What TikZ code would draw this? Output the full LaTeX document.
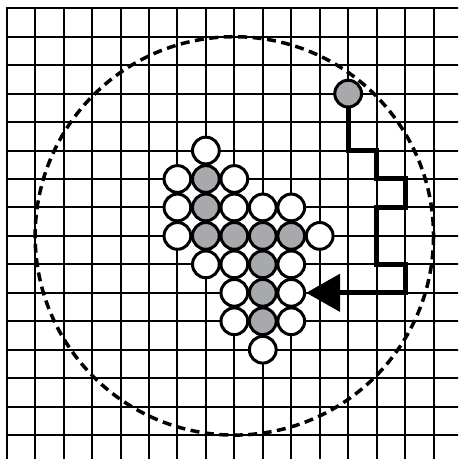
\documentclass[tikz,border=0pt]{standalone}
\usetikzlibrary{arrows.meta}
\definecolor{cellgray}{RGB}{167,169,172}
\tikzset{
  ball/.style={circle,draw,line width=3pt,minimum size=0.94cm,inner sep=0pt,fill=white},
  full/.style={ball,fill=cellgray},
  route/.style={line width=5pt,-{Triangle[length=34pt,width=37pt]}},
}
\begin{document}
\begin{tikzpicture}[y=-1cm]
    \useasboundingbox (-0.235,-0.29) rectangle (15.86,15.84);
    \fill[white] (-0.235,-0.29) rectangle (15.86,15.84);
    % grid
    \begin{scope}
        \clip (-0.235,-0.29) rectangle (15.86,15.84);
        \foreach \i in {0,...,15} {
            \draw[line width=2pt] (\i,-0.035) -- (\i,16.5);
            \draw[line width=2pt] (-0.035,\i) -- (16.5,\i);
        }
    \end{scope}
    \draw[line width=3.5pt,dash pattern=on 9pt off 5.5pt] (8,8) circle (7);
    % white and gray cells
    \foreach \x/\y in {7/5,6/6,8/6,6/7,8/7,9/7,10/7,6/8,11/8,7/9,8/9,10/9,8/10,10/10,8/11,10/11,9/12}
        \node[ball] (c-\x-\y) at (\x,\y) {};
    \foreach \x/\y in {7/6,7/7,7/8,8/8,9/8,10/8,9/9,9/10,9/11}
        \node[full] (c-\x-\y) at (\x,\y) {};
    \node[full] (start) at (12,3) {};
    % path
    \draw[route] (start) -- (12,5) -- (13,5) -- (13,6) -- (14,6) -- (14,7)
        -- (13,7) -- (13,9) -- (14,9) -- (14,10) -- (c-10-10);
\end{tikzpicture}
\end{document}
